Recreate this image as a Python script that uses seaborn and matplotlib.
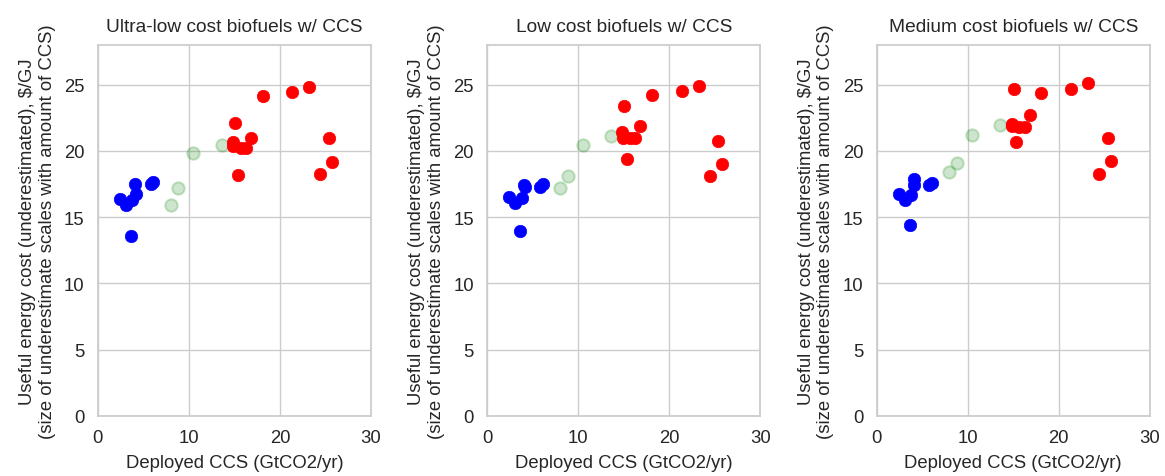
import numpy as np
import pandas as pd
import matplotlib
matplotlib.use("Agg")
import matplotlib.pyplot as plt
import seaborn as sns

# deployed CCS (same for every panel)
x_blue = [4.07, 2.42, 3.08, 3.77, 4.14, 3.63, 5.8, 6.1]
x_green = [7.99, 8.83, 10.48, 13.59]
x_red = [15.05, 14.85, 14.87, 15.68, 16.26, 16.81, 15.35, 18.1, 21.36, 23.22, 25.35, 25.75, 24.43]

titles = ["Ultra-low cost biofuels w/ CCS", "Low cost biofuels w/ CCS", "Medium cost biofuels w/ CCS"]

# useful energy cost per panel
y_blue = [
    [17.53, 16.34, 15.9, 16.26, 16.77, 13.56, 17.47, 17.65],
    [17.4, 16.52, 16.04, 16.46, 17.3, 13.94, 17.3, 17.47],
    [17.9, 16.72, 16.26, 16.67, 17.42, 14.42, 17.42, 17.6],
]
y_green = [
    [15.9, 17.17, 19.82, 20.45],
    [17.17, 18.1, 20.43, 21.14],
    [18.41, 19.09, 21.16, 21.97],
]
y_red = [
    [22.1, 20.63, 20.33, 20.25, 20.25, 20.96, 18.18, 24.17, 24.42, 24.8, 20.93, 19.12, 18.23],
    [23.36, 21.44, 21.0, 20.93, 20.93, 21.84, 19.4, 24.22, 24.5, 24.87, 20.73, 19.04, 18.1],
    [24.67, 22.02, 21.84, 21.77, 21.77, 22.73, 20.63, 24.37, 24.65, 25.08, 20.93, 19.24, 18.28],
]

sns.set_theme(style="whitegrid")
plt.rcParams['font.family'] = ['Liberation Sans', 'DejaVu Sans']

fig, axes = plt.subplots(1, 3, figsize=(11.65, 4.77), dpi=100)
plt.subplots_adjust(left=0.084, right=0.987, bottom=0.126, top=0.904, wspace=0.425)

for i, ax in enumerate(axes):
    sns.scatterplot(x=x_green, y=y_green[i], ax=ax, color="green", alpha=0.2,
                    s=80, edgecolor="green", linewidth=1.5)
    sns.scatterplot(x=x_blue, y=y_blue[i], ax=ax, color="blue", s=80,
                    edgecolor="blue", linewidth=0.5)
    sns.scatterplot(x=x_red, y=y_red[i], ax=ax, color="red", s=80,
                    edgecolor="red", linewidth=0.5)
    ax.set_xlim(0, 30)
    ax.set_ylim(0, 28)
    ax.set_xticks([0, 10, 20, 30])
    ax.set_yticks([0, 5, 10, 15, 20, 25])
    ax.tick_params(labelsize=13.3)
    ax.set_title(titles[i], fontsize=13.8, pad=10)
    ax.set_xlabel("Deployed CCS (GtCO2/yr)", fontsize=13.3, labelpad=6)
    ax.set_ylabel("Useful energy cost (underestimated), $/GJ\n(size of underestimate scales with amount of CCS)",
                  fontsize=13.3, labelpad=6)

fig.savefig("out.png", dpi=100)
